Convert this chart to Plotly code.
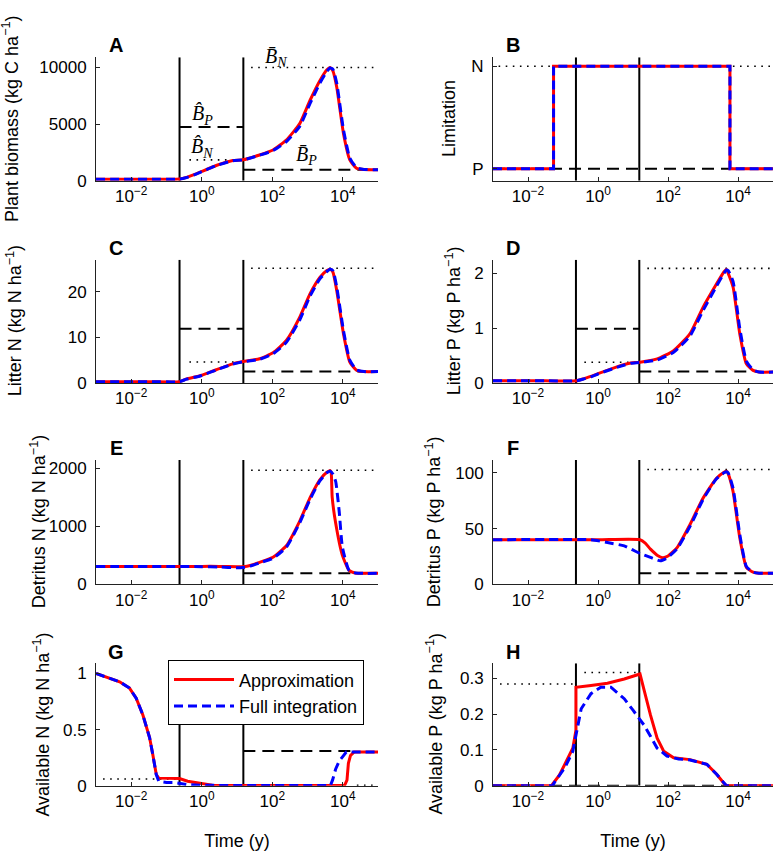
import plotly.graph_objects as go

# ---------------- data ----------------
phase_log_t = [-0.63, 1.18]          # log10(years) of the two phase boundaries

x_tick_vals = [0.01, 1, 100, 10000]
x_tick_text = ["10<sup>−2</sup>", "10<sup>0</sup>", "10<sup>2</sup>", "10<sup>4</sup>"]

# A  Plant biomass
a_logt = [-3, -1.5, -0.63, -0.43, -0.2, 0.0, 0.41, 0.88, 1.17, 1.64, 2.02, 2.4, 2.78, 3.07, 3.35, 3.55, 3.64, 3.72, 3.83, 4.02, 4.2, 4.39, 4.6, 5]
a_approx = [130, 130, 140, 290, 550, 816, 1340, 1780, 1840, 2270, 2710, 3590, 5040, 7080, 8830, 9800, 10000, 9700, 8250, 4170, 1840, 1100, 980, 970]
a_full = [130, 130, 140, 280, 530, 800, 1320, 1760, 1830, 2250, 2650, 3450, 4800, 6800, 8600, 9650, 9950, 9850, 8600, 4500, 2000, 1150, 990, 970]
a_dash = [(-0.63, 1.18, 4750), (1.18, 4.66, 960)]
a_dot = [(-0.35, 1.18, 1840), (1.4, 5, 10000)]

# B  Limitation (0 = P, 1 = N)
b_logt = [-3, -1.27, -1.27, 3.77, 3.77, 5]
b_approx = [0, 0, 1, 1, 0, 0]
b_full = [0, 0, 1, 1, 0, 0]
b_dash = [(-3, 5, 0)]
b_dot = [(-2.84, 5, 1)]

# C  Litter N
c_logt = a_logt
c_approx = [0.3, 0.3, 0.3, 0.9, 1.3, 1.7, 2.9, 4.2, 4.7, 5.3, 6.6, 9.3, 14.4, 19.5, 23.1, 24.6, 24.9, 24.3, 20.2, 10.8, 4.6, 2.8, 2.5, 2.5]
c_full = [0.3, 0.3, 0.3, 0.85, 1.25, 1.65, 2.85, 4.15, 4.65, 5.2, 6.4, 8.9, 13.8, 19.0, 22.8, 24.4, 24.9, 24.6, 21.0, 11.5, 5.0, 2.9, 2.5, 2.5]
c_dash = [(-0.63, 1.18, 11.85), (1.18, 4.66, 2.5)]
c_dot = [(-0.35, 1.18, 4.6), (1.4, 5, 25.1)]

# D  Litter P
d_logt = [-3, -1.5, -0.62, -0.4, -0.2, 0.0, 0.56, 0.94, 1.2, 1.69, 2.16, 2.63, 3.0, 3.38, 3.6, 3.67, 3.72, 3.86, 4.05, 4.24, 4.43, 4.6, 5]
d_approx = [0.04, 0.04, 0.04, 0.08, 0.12, 0.17, 0.30, 0.365, 0.38, 0.44, 0.59, 0.9, 1.38, 1.8, 2.03, 2.07, 2.0, 1.75, 0.9, 0.35, 0.23, 0.2, 0.2]
d_full = [0.04, 0.04, 0.04, 0.075, 0.115, 0.165, 0.29, 0.36, 0.375, 0.42, 0.56, 0.86, 1.32, 1.76, 2.0, 2.06, 2.05, 1.85, 1.0, 0.4, 0.24, 0.2, 0.2]
d_dash = [(-0.63, 1.18, 0.99), (1.18, 4.43, 0.21)]
d_dot = [(-0.39, 1.18, 0.38), (1.41, 5, 2.09)]

# E  Detritus N
e_logt = [-3, 0.0, 0.5, 1.0, 1.17, 1.4, 1.64, 2.02, 2.4, 2.78, 3.07, 3.35, 3.55, 3.64, 3.67, 3.7, 3.8, 3.99, 4.18, 4.37, 4.6, 5]
e_approx = [310, 310, 310, 305, 305, 330, 380, 466, 665, 1090, 1490, 1800, 1930, 1955, 1930, 1500, 1050, 500, 240, 193, 190, 190]
e_full_logt = [-3, 0.0, 0.5, 1.0, 1.17, 1.4, 1.64, 2.02, 2.4, 2.78, 3.07, 3.35, 3.55, 3.64, 3.72, 3.8, 3.9, 3.99, 4.18, 4.37, 4.6, 5]
e_full = [310, 305, 300, 285, 290, 320, 370, 450, 640, 1060, 1460, 1780, 1920, 1945, 1900, 1770, 1250, 640, 240, 195, 190, 190]
e_dash = [(1.18, 4.66, 193)]
e_dot = [(1.4, 5, 1965)]

# F  Detritus P
f_logt = [-3, 0.0, 1.2, 1.35, 1.5, 1.7, 1.85, 2.0, 2.26, 2.63, 3.0, 3.38, 3.6, 3.67, 3.72, 3.86, 4.05, 4.24, 4.43, 4.6, 5]
f_approx = [40, 40, 40, 37, 31.6, 26, 24, 25.5, 33, 53.7, 77.3, 95, 100.5, 101.5, 99, 83, 41.9, 15.3, 10.9, 10, 10]
f_full_logt = [-3, -0.2, 0.27, 0.75, 1.2, 1.5, 1.78, 1.97, 2.26, 2.63, 3.0, 3.38, 3.6, 3.67, 3.72, 3.86, 4.05, 4.24, 4.43, 4.6, 5]
f_full = [40, 40, 37.5, 34.5, 27.7, 24.2, 21.2, 23.6, 32, 52, 76, 94.5, 100, 101, 100, 86, 45, 16, 11, 10, 10]
f_dash = [(1.18, 4.43, 10)]
f_dot = [(1.41, 5, 103)]

# G  Available N
g_logt = [-3, -2.71, -2.33, -2.05, -1.86, -1.67, -1.48, -1.39, -1.29, -1.22, -1.0, -0.63, -0.4, -0.06, 0.3, 1.0, 4.05, 4.12, 4.16, 4.22, 4.32, 5]
g_approx = [1.0, 0.97, 0.926, 0.87, 0.78, 0.63, 0.43, 0.28, 0.10, 0.068, 0.065, 0.065, 0.04, 0.02, 0.005, 0.002, 0.002, 0.05, 0.2, 0.27, 0.3, 0.3]
g_full_logt = [-3, -2.71, -2.33, -2.05, -1.86, -1.67, -1.48, -1.39, -1.29, -1.22, -1.0, -0.8, -0.63, -0.4, -0.06, 0.3, 1.0, 3.65, 3.71, 3.8, 3.9, 4.0, 4.1, 5]
g_full = [1.0, 0.97, 0.926, 0.87, 0.78, 0.63, 0.43, 0.28, 0.10, 0.04, 0.03, 0.03, 0.02, 0.01, 0.005, 0.003, 0.002, 0.002, 0.05, 0.15, 0.22, 0.26, 0.3, 0.3]
g_dash = [(1.18, 4.4, 0.31)]
g_dot = [(-2.8, -0.63, 0.06), (4.4, 5, 0.004)]

# H  Available P
h_logt = [-3, -1.33, -1.1, -0.95, -0.72, -0.63, -0.63, -0.2, 0.27, 0.75, 1.2, 1.31, 1.5, 1.69, 1.88, 2.16, 2.63, 3.11, 3.39, 3.58, 3.67, 5]
h_approx = [0, 0, 0.03, 0.06, 0.105, 0.155, 0.275, 0.28, 0.286, 0.298, 0.312, 0.27, 0.197, 0.133, 0.096, 0.078, 0.073, 0.06, 0.032, 0.009, 0, 0]
h_full_logt = [-3, -1.3, -1.24, -0.95, -0.72, -0.62, -0.48, -0.2, 0.08, 0.37, 0.75, 1.0, 1.31, 1.5, 1.69, 1.97, 2.3, 2.63, 3.11, 3.39, 3.58, 3.67, 5]
h_full = [0, 0, 0.01, 0.05, 0.096, 0.142, 0.215, 0.257, 0.275, 0.275, 0.243, 0.211, 0.17, 0.138, 0.105, 0.083, 0.075, 0.072, 0.06, 0.032, 0.009, 0, 0]
h_dash = [(-3, 5, 0)]
h_dot = [(-2.8, -0.63, 0.284), (-0.39, 1.18, 0.316)]

# ---------------- layout helpers ----------------
W, H = 778, 855
FONT = "Liberation Sans, Arial, sans-serif"
RED, BLUE = "#ff0000", "#0000ff"

panels = [
    ("A", "Plant biomass (kg C ha<sup>−1</sup>)", a_logt, a_approx, a_logt, a_full, a_dash, a_dot, [0, 10900], [0, 5000, 10000], ["0", "5000", "10000"], True),
    ("B", "Limitation", b_logt, b_approx, b_logt, b_full, b_dash, b_dot, [-0.115, 1.087], [0, 1], ["P", "N"], False),
    ("C", "Litter N (kg N ha<sup>−1</sup>)", c_logt, c_approx, c_logt, c_full, c_dash, c_dot, [0, 27], [0, 10, 20], ["0", "10", "20"], True),
    ("D", "Litter P (kg P ha<sup>−1</sup>)", d_logt, d_approx, d_logt, d_full, d_dash, d_dot, [0, 2.25], [0, 1, 2], ["0", "1", "2"], True),
    ("E", "Detritus N (kg N ha<sup>−1</sup>)", e_logt, e_approx, e_full_logt, e_full, e_dash, e_dot, [0, 2140], [0, 1000, 2000], ["0", "1000", "2000"], True),
    ("F", "Detritus P (kg P ha<sup>−1</sup>)", f_logt, f_approx, f_full_logt, f_full, f_dash, f_dot, [0, 111.5], [0, 50, 100], ["0", "50", "100"], True),
    ("G", "Available N (kg N ha<sup>−1</sup>)", g_logt, g_approx, g_full_logt, g_full, g_dash, g_dot, [0, 1.09], [0, 0.5, 1], ["0", "0.5", "1"], False),
    ("H", "Available P (kg P ha<sup>−1</sup>)", h_logt, h_approx, h_full_logt, h_full, h_dash, h_dot, [0, 0.3416], [0, 0.1, 0.2, 0.3], ["0", "0.1", "0.2", "0.3"], False),
]

col_px = [(96, 378), (493, 773)]
row_px = [(57, 182), (262, 387), (465, 591), (671, 795)]
ytitle_px = [11, 449, 14, 453, 38, 433, 42, 435]

fig = go.Figure()
layout = dict(
    width=W, height=H, margin=dict(l=0, r=0, t=0, b=0),
    paper_bgcolor="white", plot_bgcolor="white",
    font=dict(family=FONT, size=16, color="black"),
    showlegend=True,
    legend=dict(x=168 / W, y=1 - 668 / H, xanchor="left", yanchor="top",
                bordercolor="black", borderwidth=1, bgcolor="white",
                font=dict(size=18, family=FONT), tracegroupgap=0,
                itemwidth=60),
)
annotations = []


def tt(logs):
    return [10 ** v for v in logs]


for i, (letter, ylab, lt1, v1, lt2, v2, dsh, dts, yr, ytv, ytt, smooth) in enumerate(panels):
    k = i + 1
    xa, ya = f"x{k}", f"y{k}"
    col, row = i % 2, i // 2
    x0p, x1p = col_px[col]
    ytop, ybot = row_px[row]
    xd = [x0p / W, x1p / W]
    yd = [1 - ybot / H, 1 - ytop / H]
    axkey = "" if k == 1 else str(k)
    layout["xaxis" + axkey] = dict(
        domain=xd, anchor=ya, type="log", range=[-3, 5],
        tickvals=x_tick_vals, ticktext=x_tick_text, ticks="inside", ticklen=4,
        tickcolor="#222", showline=True, linecolor="#222", linewidth=1,
        showgrid=False, zeroline=False, tickfont=dict(size=17),
        title=dict(text="Time (y)" if row == 3 else "", font=dict(size=18), standoff=24),
    )
    layout["yaxis" + axkey] = dict(
        domain=yd, anchor=xa, range=yr, tickvals=ytv, ticktext=ytt, ticks="inside", ticklen=4,
        tickcolor="#222", showline=True, linecolor="#222", linewidth=1,
        showgrid=False, zeroline=False, tickfont=dict(size=17), ticklabelstandoff=5,
    )

    # reference levels
    for (s0, s1, lev) in dsh:
        fig.add_trace(go.Scatter(x=tt([s0, s1]), y=[lev, lev], mode="lines", xaxis=xa, yaxis=ya,
                                 line=dict(color="black", width=2, dash="12px,7px"),
                                 showlegend=False, hoverinfo="skip"))
    for (s0, s1, lev) in dts:
        fig.add_trace(go.Scatter(x=tt([s0, s1]), y=[lev, lev], mode="lines", xaxis=xa, yaxis=ya,
                                 line=dict(color="black", width=1.6, dash="1.6px,5.5px"),
                                 showlegend=False, hoverinfo="skip"))
    # phase boundaries
    for pt in phase_log_t:
        fig.add_trace(go.Scatter(x=tt([pt, pt]), y=[yr[0], yr[1]], mode="lines", xaxis=xa, yaxis=ya,
                                 line=dict(color="black", width=2),
                                 showlegend=False, hoverinfo="skip"))
    shape = "spline" if smooth else "linear"
    fig.add_trace(go.Scatter(x=tt(lt1), y=v1, mode="lines", xaxis=xa, yaxis=ya,
                             name="Approximation", legendgroup="a", showlegend=(k == 7),
                             line=dict(color=RED, width=3, shape=shape, smoothing=0.5)))
    fig.add_trace(go.Scatter(x=tt(lt2), y=v2, mode="lines", xaxis=xa, yaxis=ya,
                             name="Full integration", legendgroup="f", showlegend=(k == 7),
                             line=dict(color=BLUE, width=3, dash="9px,5px", shape=shape, smoothing=0.5)))

    # panel letter
    annotations.append(dict(text=f"<b>{letter}</b>", xref="paper", yref="paper",
                            x=(x0p + 20) / W, y=1 - (ytop - 12) / H, showarrow=False,
                            xanchor="center", yanchor="middle", font=dict(size=20)))
    # y-axis title
    annotations.append(dict(text=ylab, xref="paper", yref="paper", textangle=-90,
                            x=ytitle_px[i] / W, y=1 - ((ytop + ybot) / 2) / H, showarrow=False,
                            xanchor="center", yanchor="middle", font=dict(size=18)))

# math labels in panel A
math_labels = [
    ("<i>B\u0302</i><sub><i>P</i></sub>", 0.02, 5790),
    ("<i>B\u0302</i><sub><i>N</i></sub>", 0.02, 2890),
    ("<i>B\u0304</i><sub><i>N</i></sub>", 2.12, 10870),
    ("<i>B\u0304</i><sub><i>P</i></sub>", 2.96, 2190),
]
for txt, lx, ly in math_labels:
    annotations.append(dict(text=txt, xref="x", yref="y", x=lx, y=ly, showarrow=False,
                            xanchor="center", yanchor="middle",
                            font=dict(size=20, family="Liberation Serif, Times New Roman, serif")))

layout["annotations"] = annotations
fig.update_layout(**layout)
fig.write_html("out.html", config={"displayModeBar": False},
               post_script="document.body.style.margin='0px';")
